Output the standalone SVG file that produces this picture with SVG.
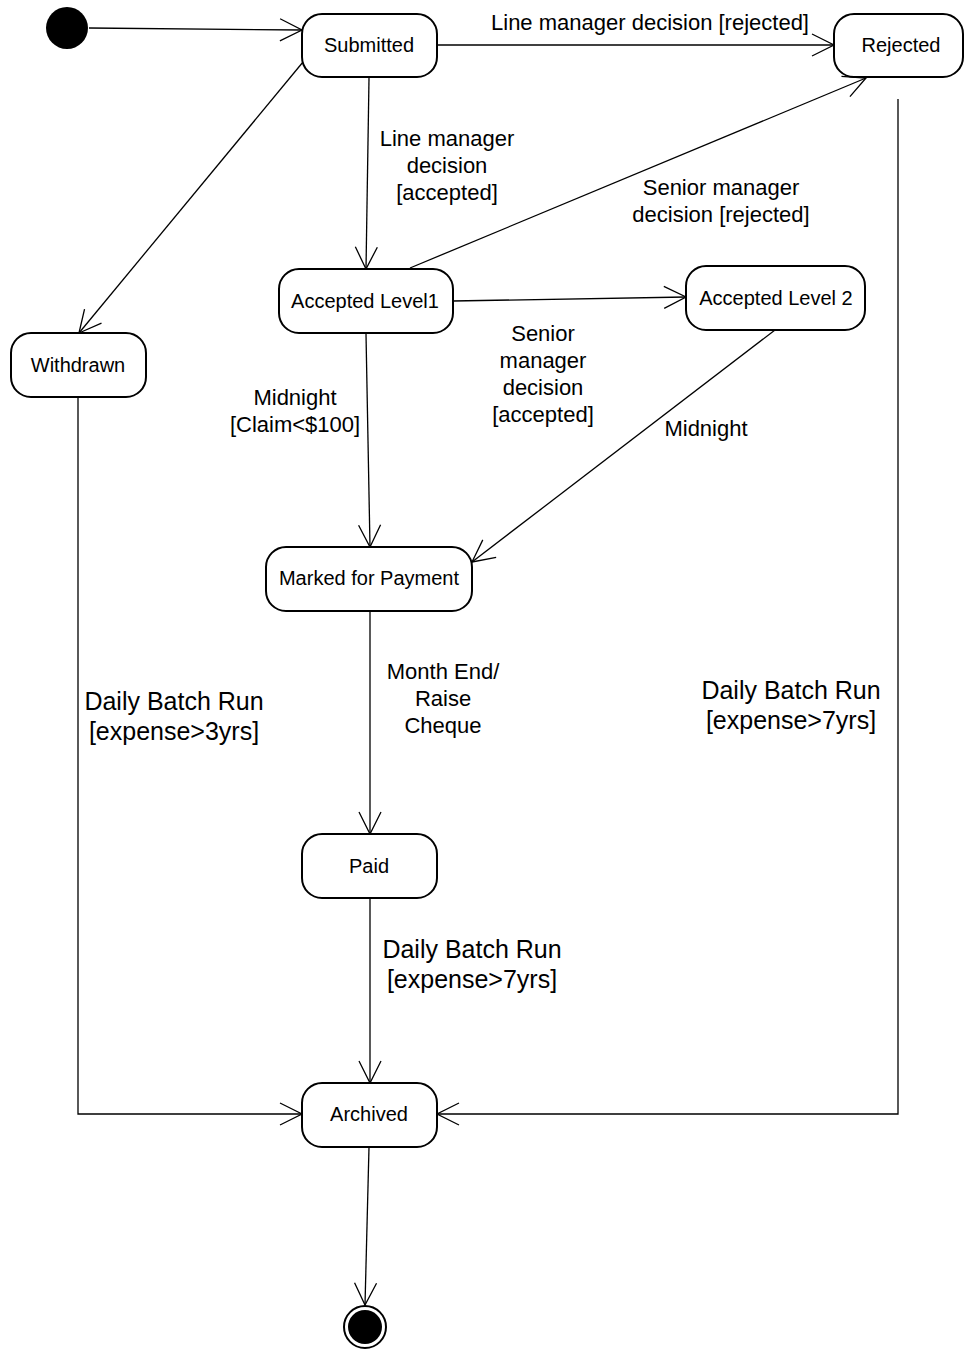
<svg xmlns="http://www.w3.org/2000/svg" width="964" height="1349" viewBox="0 0 964 1349">
<style>
.node rect{fill:#fff;stroke:#000;stroke-width:2}
.nt{font-family:"Liberation Sans",Arial,sans-serif;font-size:20px;fill:#000;text-anchor:middle}
.lbl{font-family:"Liberation Sans",Arial,sans-serif;font-size:22px;fill:#000;text-anchor:middle}
.big{font-size:25px}
.edges path{fill:none;stroke:#000;stroke-width:1.3}
</style>
<defs>
<marker id="arr" viewBox="-24 -13 26 26" markerWidth="26" markerHeight="26" refX="0" refY="0" markerUnits="userSpaceOnUse" orient="auto">
<path d="M-22,-11 L0,0 L-22,11" fill="none" stroke="#000" stroke-width="1.3"/>
</marker>
</defs>
<rect width="964" height="1349" fill="#fff"/>
<g class="edges" id="connectors">
<path d="M89,28 L302,30" marker-end="url(#arr)"/>
<path d="M437,45 L834,45" marker-end="url(#arr)"/>
<path d="M369,78 L366,269" marker-end="url(#arr)"/>
<path d="M303,62 L79,333" marker-end="url(#arr)"/>
<path d="M410,268 L866,78" marker-end="url(#arr)"/>
<path d="M453,301 L686,297" marker-end="url(#arr)"/>
<path d="M366,334 L370,547" marker-end="url(#arr)"/>
<path d="M775,330 L472,562" marker-end="url(#arr)"/>
<path d="M370,611 L370,834" marker-end="url(#arr)"/>
<path d="M370,898 L370,1083" marker-end="url(#arr)"/>
<path d="M78,398 L78,1114 L302,1114" marker-end="url(#arr)"/>
<path d="M898,99 L898,1114 L437,1114" marker-end="url(#arr)"/>
<path d="M369,1147 L365,1305" marker-end="url(#arr)"/>
</g>
<g id="labels">
<text class="lbl" x="650" y="30">Line manager decision [rejected]</text>
<text class="lbl" x="447" y="146">Line manager</text>
<text class="lbl" x="447" y="173">decision</text>
<text class="lbl" x="447" y="200">[accepted]</text>
<text class="lbl" x="721" y="195">Senior manager</text>
<text class="lbl" x="721" y="222">decision [rejected]</text>
<text class="lbl" x="295" y="405">Midnight</text>
<text class="lbl" x="295" y="432">[Claim&lt;$100]</text>
<text class="lbl" x="543" y="341">Senior</text>
<text class="lbl" x="543" y="368">manager</text>
<text class="lbl" x="543" y="395">decision</text>
<text class="lbl" x="543" y="422">[accepted]</text>
<text class="lbl" x="706" y="436">Midnight</text>
<text class="lbl" x="443" y="679">Month End/</text>
<text class="lbl" x="443" y="706">Raise</text>
<text class="lbl" x="443" y="733">Cheque</text>
<text class="lbl big" x="174" y="710">Daily Batch Run</text>
<text class="lbl big" x="174" y="740">[expense&gt;3yrs]</text>
<text class="lbl big" x="791" y="699">Daily Batch Run</text>
<text class="lbl big" x="791" y="729">[expense&gt;7yrs]</text>
<text class="lbl big" x="472" y="958">Daily Batch Run</text>
<text class="lbl big" x="472" y="988">[expense&gt;7yrs]</text>
</g>
<g id="initial"><circle cx="67" cy="28" r="21" fill="#000"/></g>
<g id="final"><circle cx="365" cy="1327" r="21" fill="#fff" stroke="#000" stroke-width="2"/><circle cx="365" cy="1327" r="17" fill="#000"/></g>
<g class="node" id="submitted"><rect x="302" y="14" width="135" height="63" rx="20"/><text class="nt" x="369" y="52">Submitted</text></g>
<g class="node" id="rejected"><rect x="834" y="14" width="129" height="63" rx="20"/><text class="nt" x="901" y="52">Rejected</text></g>
<g class="node" id="accepted1"><rect x="279" y="269" width="174" height="64" rx="20"/><text class="nt" x="365" y="308">Accepted Level1</text></g>
<g class="node" id="accepted2"><rect x="686" y="266" width="179" height="64" rx="20"/><text class="nt" x="776" y="305">Accepted Level 2</text></g>
<g class="node" id="withdrawn"><rect x="11" y="333" width="135" height="64" rx="20"/><text class="nt" x="78" y="372">Withdrawn</text></g>
<g class="node" id="marked"><rect x="266" y="547" width="206" height="64" rx="20"/><text class="nt" x="369" y="585">Marked for Payment</text></g>
<g class="node" id="paid"><rect x="302" y="834" width="135" height="64" rx="20"/><text class="nt" x="369" y="873">Paid</text></g>
<g class="node" id="archived"><rect x="302" y="1083" width="135" height="64" rx="20"/><text class="nt" x="369" y="1121">Archived</text></g>
</svg>
